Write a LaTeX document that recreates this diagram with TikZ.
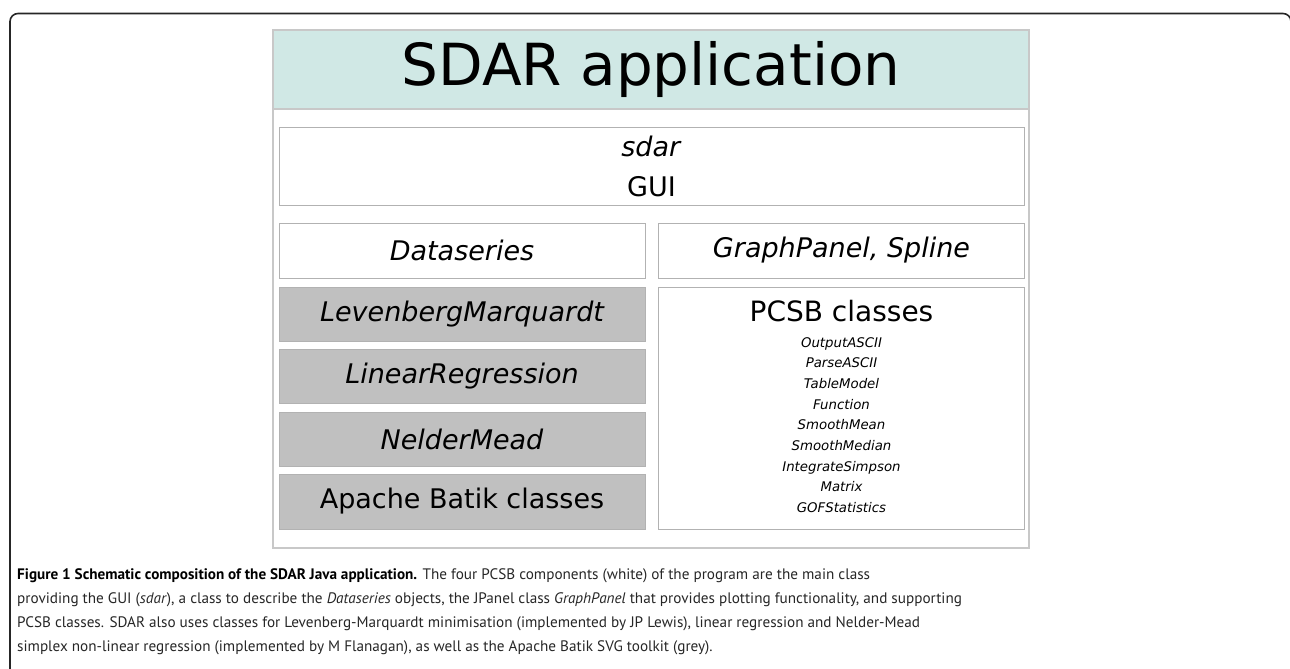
\documentclass[tikz,border=0pt]{standalone}
\usepackage{fontspec}
\setmainfont{DejaVu Sans}
\newfontfamily\capfont{PT Sans}
\usetikzlibrary{positioning}
\definecolor{headfill}{RGB}{208,232,229}
\definecolor{greyfill}{RGB}{192,192,192}
\definecolor{boxline}{RGB}{178,178,178}
\definecolor{frameline}{RGB}{200,200,200}
\tikzset{ cls/.style = { rectangle % PCSB class
        , draw = boxline
        , line width = 1pt
        , fill = white
        , inner sep = 0pt
        , minimum width = 366pt
        , minimum height = 54pt
        , font = \fontsize{27}{32}\selectfont
        }
        , ext/.style = { cls % third-party class
        , fill = greyfill
        }
        , item/.style = { rectangle % PCSB class list
        , inner sep = 0pt
        , align = center
        , font = \fontsize{13.3}{20.7}\selectfont\itshape
        }
        }

\begin{document}
\begin{tikzpicture}[x=1pt, y=-1pt,
        app_style/.style={rectangle,draw=frameline,line width=1.2pt,minimum width=756pt,inner sep=0pt},
        caption_style/.style={align=left,inner sep=0pt,text=black!85,font=\capfont\fontsize{15.2}{24}\selectfont}]
        \useasboundingbox (0,0) rectangle (1290,669);
        \draw [line width=1.6pt, rounded corners=8pt, black!85] (10,13.5) rectangle (1291,720);

        \node [app_style,minimum height=518pt](app) at (651,289) {};
        \node [app_style,minimum height=79pt,fill=headfill,font=\fontsize{58}{64}\selectfont](head) at (651,69.5) {SDAR application};
        \node [cls,minimum width=745pt,minimum height=78pt,align=center,font=\fontsize{27}{40}\selectfont](sdar) at (651.5,166) {\textit{sdar}\\GUI};
        \node [cls,minimum height=55pt,font=\fontsize{27}{32}\selectfont\itshape](data) at (462,250.5) {Dataseries};
        \node [cls,minimum height=55pt,font=\fontsize{27}{32}\selectfont\itshape](graph) at (841.5,250.5) {GraphPanel, Spline};
        \node [ext,font=\fontsize{27}{32}\selectfont\itshape](lm) at (462,314) {LevenbergMarquardt};
        \node [ext,font=\fontsize{27}{32}\selectfont\itshape](lr) at (462,376) {LinearRegression};
        \node [ext,font=\fontsize{27}{32}\selectfont\itshape](nm) at (462,439) {NelderMead};
        \node [ext,minimum height=55pt](batik) at (462,501.5) {Apache Batik classes};
        \node [cls,minimum height=242pt](pcsb) at (841.5,408) {};
        \node [inner sep=0pt,font=\fontsize{28}{32}\selectfont](pcsbtitle) at (841.5,311) {PCSB classes};
        \node [item](pcsblist) at (841.5,425) {OutputASCII\\ParseASCII\\TableModel\\Function\\SmoothMean\\SmoothMedian\\IntegrateSimpson\\Matrix\\GOFStatistics};

        \node [caption_style,anchor=north west](caption) at (17,568) {\textbf{\color{black}Figure 1 Schematic composition of the SDAR Java application.} The four PCSB components (white) of the program are the main class\\
        providing the GUI (\textit{sdar}), a class to describe the \textit{Dataseries} objects, the JPanel class \textit{GraphPanel} that provides plotting functionality, and supporting\\
        PCSB classes. SDAR also uses classes for Levenberg-Marquardt minimisation (implemented by JP Lewis), linear regression and Nelder-Mead\\
        simplex non-linear regression (implemented by M Flanagan), as well as the Apache Batik SVG toolkit (grey).};
\end{tikzpicture}
\end{document}
